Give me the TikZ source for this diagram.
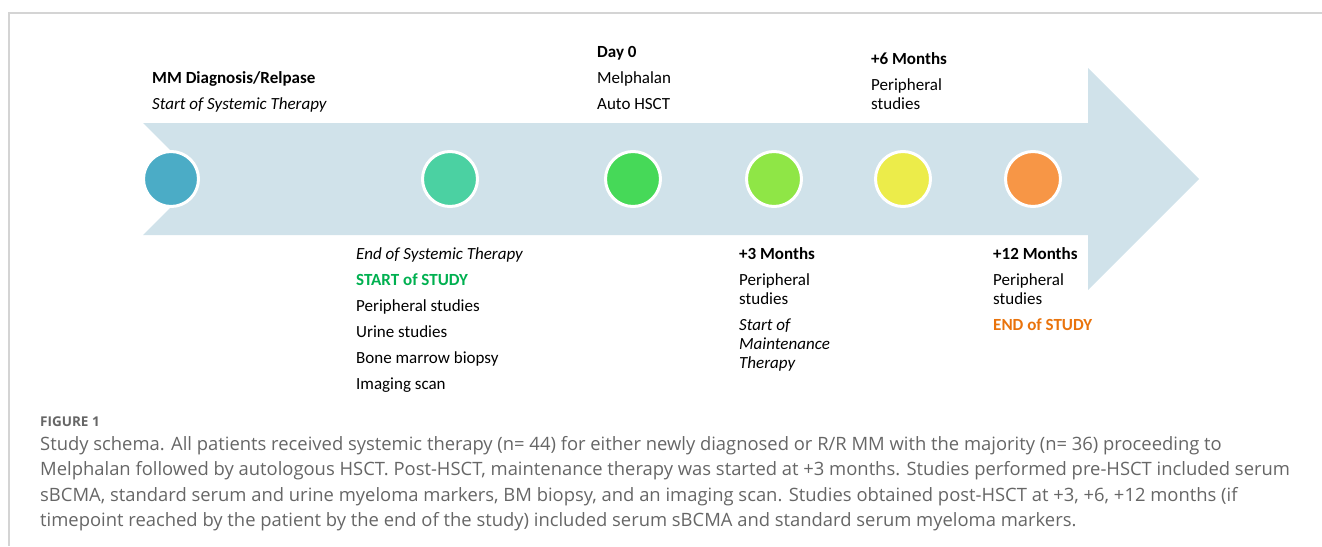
\documentclass[tikz,border=0pt]{standalone}
\usepackage{fontspec}
\setmainfont{Carlito}
\newfontfamily\capfont{Open Sans}
\usetikzlibrary{positioning}
\definecolor{shaft}{HTML}{D0E2EA}
\definecolor{framegray}{HTML}{D4D4D4}
\definecolor{capgray}{HTML}{666666}
\definecolor{cdiag}{HTML}{4BACC6}
\definecolor{ceost}{HTML}{4BD1A2}
\definecolor{cday}{HTML}{46D958}
\definecolor{cthree}{HTML}{8FE646}
\definecolor{csix}{HTML}{ECEC4A}
\definecolor{ctwelve}{HTML}{F79646}
\definecolor{studygreen}{HTML}{00B050}
\definecolor{studyorange}{HTML}{E9730C}
% fixed first-line height, so the node top sits 14pt above the first baseline
\newcommand{\firstline}{\rule{0pt}{14pt}}
\tikzstyle{stage}=[
	circle,
	draw=white,
	line width=3,
	minimum size=55,
	inner sep=0]
\tikzstyle{note}=[
	anchor=north west,
	align=left,
	inner sep=0,
	font=\fontsize{17}{19}\selectfont]
\tikzstyle{caption}=[
	anchor=north west,
	align=left,
	inner sep=0,
	text=capgray,
	font=\capfont\fontsize{18.4}{25.5}\selectfont]

\begin{document}
\begin{tikzpicture}[x=1pt,y=-1pt]
	\useasboundingbox (0,0) rectangle (1322,546);
	\draw[framegray,line width=1.5] (1322,13) -- (9,13) -- (9,546);
	% timeline arrow
	\fill[shaft] (143,123) -- (1088,123) -- (1088,68) -- (1199,179) -- (1088,290)
		-- (1088,235) -- (143,235) -- (199,179) -- cycle;
	% milestones
	\node[stage,fill=cdiag]		(diag)	at (171,179)	{};
	\node[stage,fill=ceost]		(eost)	at (450,179)	{};
	\node[stage,fill=cday]		(day0)	at (633,179)	{};
	\node[stage,fill=cthree]	(m3)	at (774,179)	{};
	\node[stage,fill=csix]		(m6)	at (903,179)	{};
	\node[stage,fill=ctwelve]	(m12)	at (1033,179)	{};
	% labels above
	\node[note] (tdiag) at (152,69) {\firstline\textbf{MM Diagnosis/Relpase}\\[7pt]\textit{Start of Systemic Therapy}};
	\node[note] (tday0) at (597,43) {\firstline\textbf{Day 0}\\[7pt]Melphalan\\[7pt]Auto HSCT};
	\node[note] (tm6) at (871,50) {\firstline\textbf{+6 Months}\\[7pt]Peripheral\\studies};
	% labels below
	\node[note] (teost) at (356,245) {\firstline\textit{End of Systemic Therapy}\\[7pt]\textcolor{studygreen}{\textbf{START of STUDY}}\\[7pt]Peripheral studies\\[7pt]Urine studies\\[7pt]Bone marrow biopsy\\[7pt]Imaging scan};
	\node[note] (tm3) at (739,245) {\firstline\textbf{+3 Months}\\[7pt]Peripheral\\studies\\[7pt]\textit{Start of}\\\textit{Maintenance}\\\textit{Therapy}};
	\node[note] (tm12) at (993,245) {\firstline\textbf{+12 Months}\\[7pt]Peripheral\\studies\\[7pt]\textcolor{studyorange}{\textbf{END of STUDY}}};
	% caption
	\node[caption,font=\capfont\bfseries\fontsize{13.5}{16}\selectfont] (fig) at (40,412) {\firstline FIGURE 1};
	\node[caption] (cap) at (40,436) {\firstline Study schema. All patients received systemic therapy (n= 44) for either newly diagnosed or R/R MM with the majority (n= 36) proceeding to\\
		Melphalan followed by autologous HSCT. Post-HSCT, maintenance therapy was started at +3 months. Studies performed pre-HSCT included serum\\
		sBCMA, standard serum and urine myeloma markers, BM biopsy, and an imaging scan. Studies obtained post-HSCT at +3, +6, +12 months (if\\
		timepoint reached by the patient by the end of the study) included serum sBCMA and standard serum myeloma markers.};
\end{tikzpicture}
\end{document}
